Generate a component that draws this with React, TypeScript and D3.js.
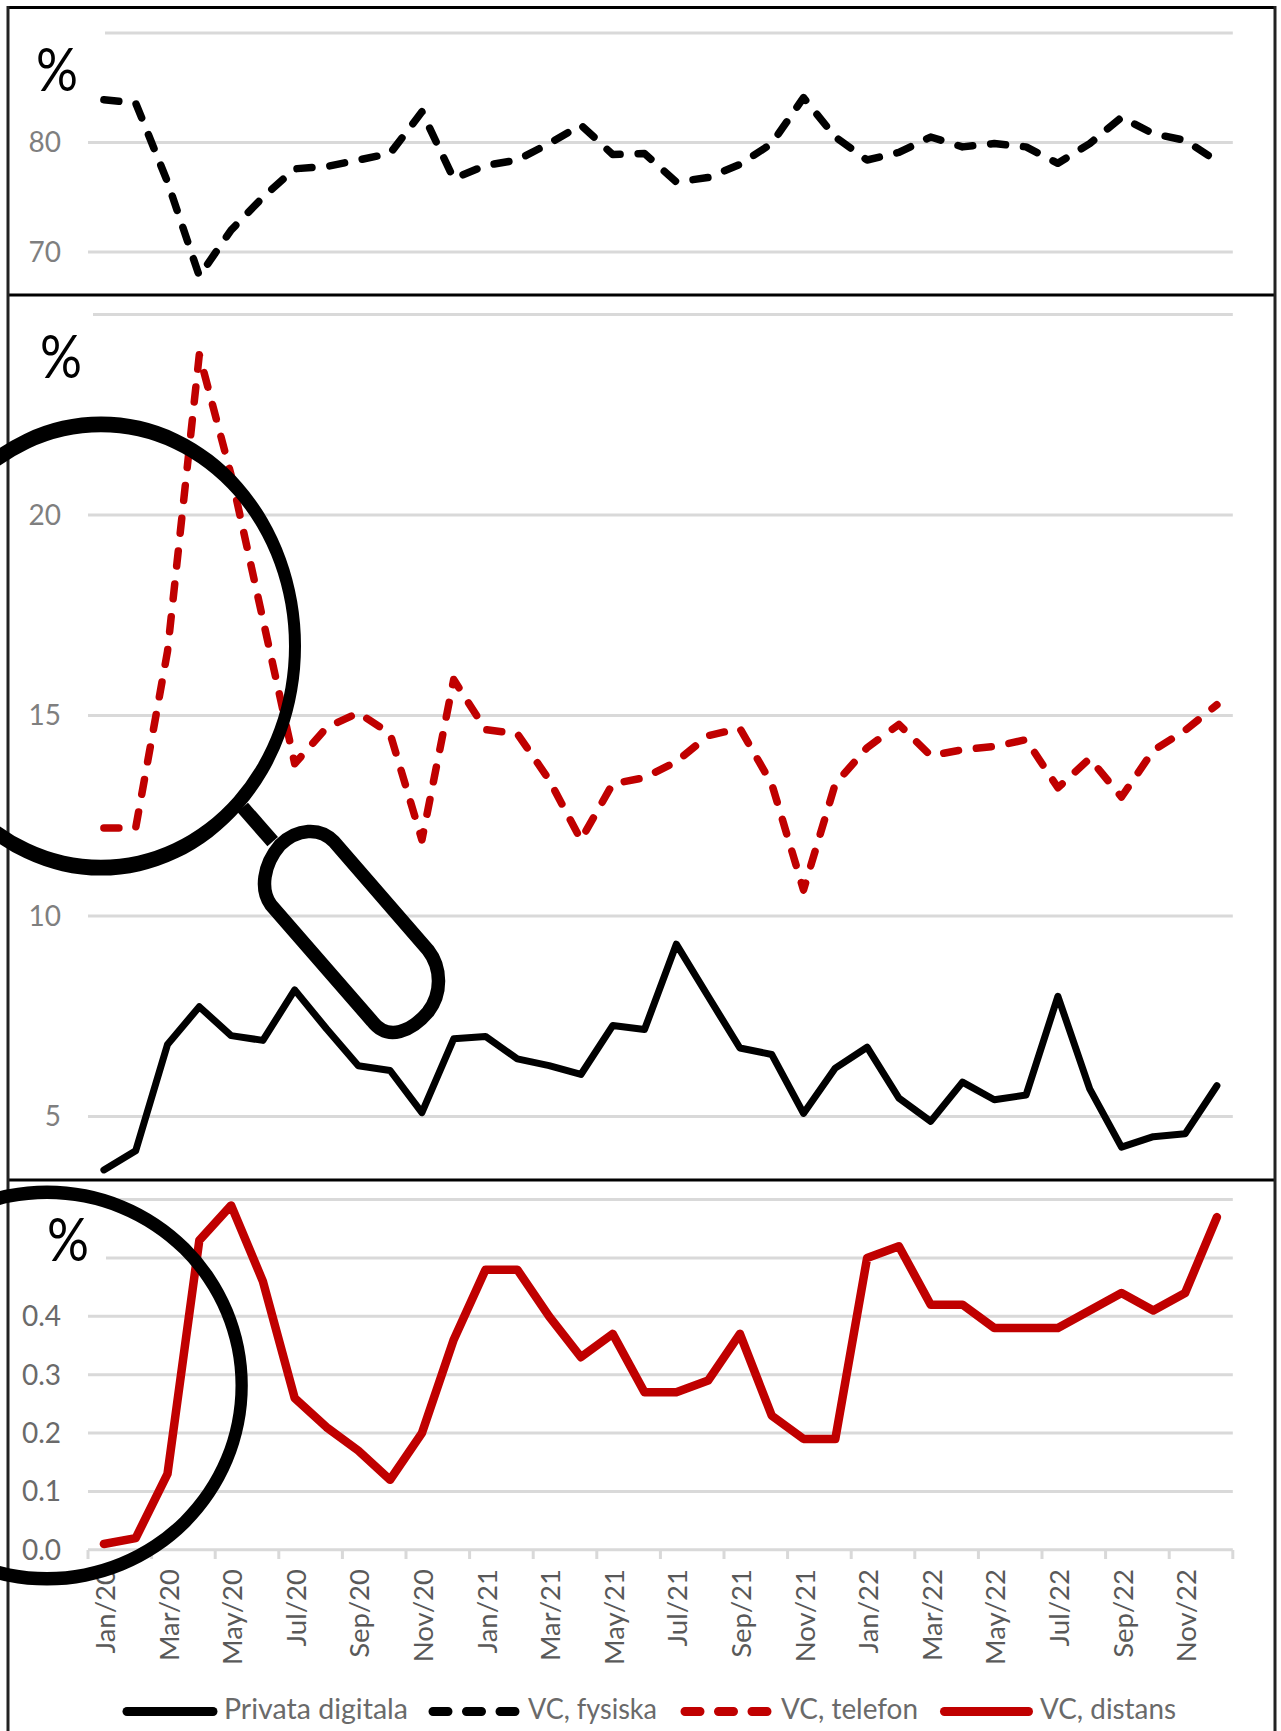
import React from "react";
import * as d3 from "d3";

const months = [
  "Jan/20","Feb/20","Mar/20","Apr/20","May/20","Jun/20","Jul/20","Aug/20","Sep/20","Oct/20","Nov/20","Dec/20",
  "Jan/21","Feb/21","Mar/21","Apr/21","May/21","Jun/21","Jul/21","Aug/21","Sep/21","Oct/21","Nov/21","Dec/21",
  "Jan/22","Feb/22","Mar/22","Apr/22","May/22","Jun/22","Jul/22","Aug/22","Sep/22","Oct/22","Nov/22","Dec/22",
];
const vcFysiska = [83.9,83.6,76.4,67.8,72,75,77.6,77.8,78.4,79,82.8,76.7,77.9,78.4,79.9,81.6,78.9,79,76.4,76.8,78,79.9,84.1,80.5,78.4,79.1,80.5,79.6,79.9,79.6,78.1,79.9,82.3,80.8,80.2,78.3];
const vcTelefon = [12.2,12.2,16.6,24,21,17.4,13.8,14.7,15.07,14.55,11.9,15.9,14.65,14.55,13.4,11.9,13.3,13.45,13.85,14.5,14.68,13.3,10.65,13.3,14.2,14.78,14,14.15,14.23,14.4,13.2,13.93,12.97,14.13,14.63,15.27];
const privataDigitala = [3.67,4.15,6.8,7.74,7.02,6.9,8.16,7.19,6.27,6.15,5.1,6.94,7,6.44,6.27,6.05,7.27,7.17,9.3,8,6.71,6.55,5.08,6.21,6.73,5.46,4.88,5.86,5.42,5.54,8,5.69,4.24,4.5,4.57,5.77];
const vcDistans = [0.01,0.02,0.13,0.53,0.59,0.46,0.26,0.21,0.17,0.12,0.2,0.36,0.48,0.48,0.4,0.33,0.37,0.27,0.27,0.29,0.37,0.23,0.19,0.19,0.5,0.52,0.42,0.42,0.38,0.38,0.38,0.41,0.44,0.41,0.44,0.57];

const topGrid = [70, 80, 90];
const topLabels = [70, 80];
const midGrid = [5, 10, 15, 20, 25];
const midLabels = [5, 10, 15, 20];
const botGrid = [0, 0.1, 0.2, 0.3, 0.4, 0.5, 0.6];
const botLabels = [0, 0.1, 0.2, 0.3, 0.4];

const FONT = "Lato, sans-serif";
const RED = "#c00000";
const GRID = "#d9d9d9";
const DASH = "15 18";
const AXIS_L = 88;
const AXIS_R = 1232.8;

const x = d3.scaleBand<string>().domain(months).range([AXIS_L, AXIS_R]);
const cx = (m: string) => (x(m) as number) + x.bandwidth() / 2;
const yTop = d3.scaleLinear().domain([70, 90]).range([252, 33]);
const yMid = d3.scaleLinear().domain([5, 25]).range([1116.6, 314.6]);
const yBot = d3.scaleLinear().domain([0, 0.6]).range([1549.8, 1199.6]);

function linePath(values: number[], y: d3.ScaleLinear<number, number>) {
  return d3.line<number>().x((_, i) => cx(months[i])).y((v) => y(v)).curve(d3.curveLinear)(values) as string;
}
function ring(c: number, d: number, rx: number, ry: number, ix: number, iy: number) {
  const e = (a: number, b: number) => `M${c - a},${d}A${a},${b} 0 1 0 ${c + a},${d}A${a},${b} 0 1 0 ${c - a},${d}Z`;
  return e(rx, ry) + e(ix, iy);
}

function Grid({ vals, y }: { vals: number[]; y: d3.ScaleLinear<number, number> }) {
  return (
    <g>
      {vals.map((v) => (
        <line key={v} x1={AXIS_L} x2={AXIS_R} y1={y(v)} y2={y(v)} stroke={GRID} strokeWidth={3} />
      ))}
    </g>
  );
}
function YLabels({ vals, y, fmt, fill }: { vals: number[]; y: d3.ScaleLinear<number, number>; fmt: (v: number) => string; fill: string }) {
  return (
    <g fontFamily={FONT} fontSize={28} fill={fill} textAnchor="end">
      {vals.map((v) => (
        <text key={v} x={61} y={y(v)} dy="0.35em">{fmt(v)}</text>
      ))}
    </g>
  );
}
function Percent({ px, py }: { px: number; py: number }) {
  return (
    <text x={px} y={py} fontFamily={FONT} fontSize={60} fill="#000" textLength={42} lengthAdjust="spacingAndGlyphs">%</text>
  );
}

const legendItems = [
  { label: "Privata digitala", color: "#000", dash: false, x1: 127, x2: 213, tx: 224, tw: 184 },
  { label: "VC, fysiska", color: "#000", dash: true, x1: 433, x2: 515, tx: 528, tw: 129 },
  { label: "VC, telefon", color: RED, dash: true, x1: 685, x2: 767, tx: 781, tw: 137 },
  { label: "VC, distans", color: RED, dash: false, x1: 944.5, x2: 1028.5, tx: 1040, tw: 136 },
];

export default function App() {
  const labelled = months.filter((_, i) => i % 2 === 0);
  return (
    <svg width={1281} height={1731} style={{ position: "absolute", left: 0, top: 0, background: "#fff" }}>
      <Grid vals={topGrid} y={yTop} />
      <Grid vals={midGrid} y={yMid} />
      <Grid vals={botGrid} y={yBot} />
      {/* white boxes behind the % signs hide the gridline starts */}
      <rect x={10} y={24} width={95} height={20} fill="#fff" />
      <rect x={10} y={305} width={83} height={20} fill="#fff" />
      <rect x={10} y={1247} width={96} height={20} fill="#fff" />

      <YLabels vals={topLabels} y={yTop} fmt={(v) => String(v)} fill="#7f7f7f" />
      <YLabels vals={midLabels} y={yMid} fmt={(v) => String(v)} fill="#7f7f7f" />
      <YLabels vals={botLabels} y={yBot} fmt={(v) => v.toFixed(1)} fill="#6a6a6a" />
      <Percent px={36} py={91} />
      <Percent px={40} py={378} />
      <Percent px={47} py={1261} />

      {/* x axis */}
      <g stroke={GRID} strokeWidth={3}>
        {labelled.map((m) => (
          <line key={m} x1={x(m) as number} x2={x(m) as number} y1={1550} y2={1559} />
        ))}
        <line x1={AXIS_R} x2={AXIS_R} y1={1550} y2={1559} />
      </g>
      <g fontFamily={FONT} fontSize={27.5} fill="#595959" textAnchor="end">
        {labelled.map((m) => (
          <text key={m} transform={`translate(${cx(m) + 11},1569) rotate(-90)`}>{m}</text>
        ))}
      </g>

      {/* series */}
      <g fill="none" strokeLinejoin="round">
        <path d={linePath(vcFysiska, yTop)} stroke="#000" strokeWidth={7.5} strokeDasharray={DASH} strokeLinecap="round" />
        <path d={linePath(vcTelefon, yMid)} stroke={RED} strokeWidth={7.5} strokeDasharray={DASH} strokeLinecap="round" />
        <path d={linePath(privataDigitala, yMid)} stroke="#000" strokeWidth={7} strokeLinecap="round" />
        <path d={linePath(vcDistans, yBot)} stroke={RED} strokeWidth={8.5} strokeLinecap="round" />
      </g>

      {/* panel frame */}
      <g stroke="#000" strokeWidth={3}>
        <line x1={8} x2={1275} y1={7.5} y2={7.5} />
        <line x1={8} x2={1275} y1={295} y2={295} />
        <line x1={8} x2={1275} y1={1180} y2={1180} />
      </g>
      <g stroke="#222" strokeWidth={3}>
        <line x1={8} x2={8} y1={6} y2={1731} />
        <line x1={1275} x2={1275} y1={6} y2={1731} />
      </g>

      {/* legend */}
      {legendItems.map((d) => (
        <g key={d.label}>
          <line x1={d.x1} x2={d.x2} y1={1711.5} y2={1711.5} stroke={d.color} strokeWidth={9} strokeLinecap="round" strokeDasharray={d.dash ? "15 18.5" : undefined} />
          <text x={d.tx} y={1718.5} fontFamily={FONT} fontSize={28.5} fill="#6a6a6a" textLength={d.tw} lengthAdjust="spacingAndGlyphs">{d.label}</text>
        </g>
      ))}

      {/* magnifiers */}
      <path d={ring(101, 646, 200, 229.6, 188, 213.8)} fill="#000" fillRule="evenodd" />
      <path d={ring(47, 1385.5, 200.8, 200, 188.5, 186.5)} fill="#000" fillRule="evenodd" />
      <line x1={242.7} y1={807.3} x2={272.7} y2={841.7} stroke="#000" strokeWidth={14} />
      <path
        d="M334,841.7L428,950C442,968 442,994 428,1012C412,1031 388,1042 372,1021L271,905C260,890 263,865 280,845C297,828.3 320,826.7 334,841.7Z"
        fill="none" stroke="#000" strokeWidth={13.5}
      />
    </svg>
  );
}
